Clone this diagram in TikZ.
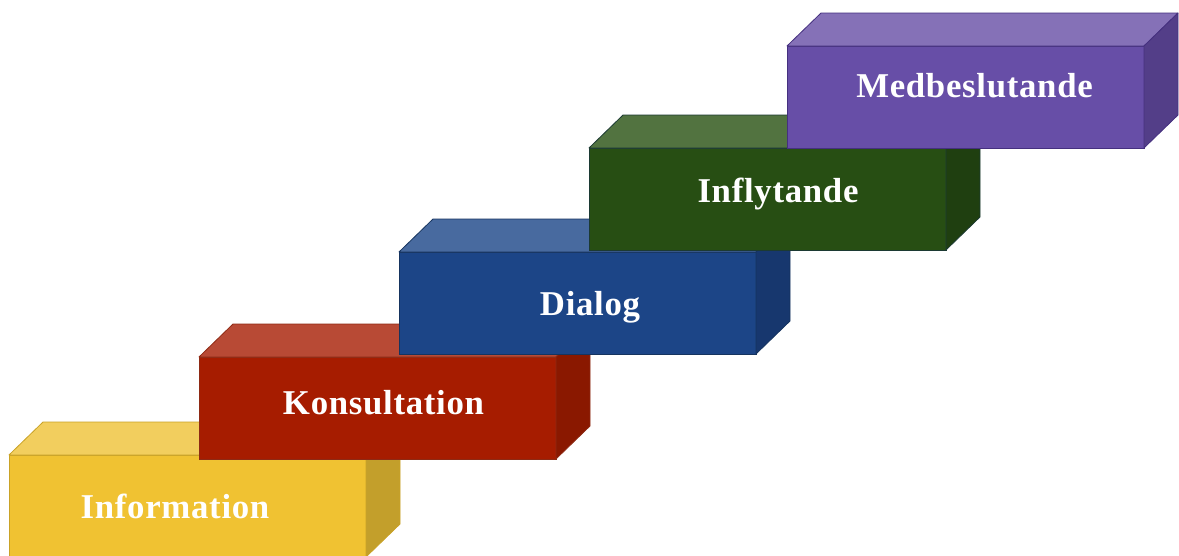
\documentclass[tikz,border=0pt]{standalone}
\usepackage{fontspec}
\setmainfont{Liberation Serif}
\usetikzlibrary{calc}

% face colours of the five steps: front, top, side, edge
\definecolor{yelFront}{HTML}{F0C232}
\definecolor{yelTop}{HTML}{F2CE5E}
\definecolor{yelSide}{HTML}{C39F2B}
\definecolor{yelEdge}{HTML}{C9A226}
\definecolor{redFront}{HTML}{A61C00}
\definecolor{redTop}{HTML}{B84A35}
\definecolor{redSide}{HTML}{8A1800}
\definecolor{redEdge}{HTML}{8E2A14}
\definecolor{bluFront}{HTML}{1C4587}
\definecolor{bluTop}{HTML}{486A9F}
\definecolor{bluSide}{HTML}{17376E}
\definecolor{bluEdge}{HTML}{16345F}
\definecolor{grnFront}{HTML}{274E13}
\definecolor{grnTop}{HTML}{527340}
\definecolor{grnSide}{HTML}{1F3F10}
\definecolor{grnEdge}{HTML}{1C3A33}
\definecolor{purFront}{HTML}{674EA7}
\definecolor{purTop}{HTML}{8571B7}
\definecolor{purSide}{HTML}{533E88}
\definecolor{purEdge}{HTML}{45307F}

\tikzset{
  frontface/.style={draw, minimum width=357pt, minimum height=102pt,
    inner sep=0pt, outer sep=0pt, anchor=north west, line width=0.8pt},
  face/.style={line width=0.8pt, line join=round},
  steplabel/.style={text=white, anchor=base, inner sep=0pt,
    font=\fontsize{34.8}{40}\selectfont\bfseries\addfontfeature{LetterSpace=2}},
}

% #1 name, #2 #3 front top-left corner, #4 front, #5 top, #6 side, #7 edge
\newcommand\stairblock[7]{%
  \node[frontface, fill=#4, draw=#7] (#1) at (#2,#3) {};
  \filldraw[face, fill=#5, draw=#7]
    (#1.north west) -- ++(34,-33) -- ($(#1.north east)+(34,-33)$)
    -- (#1.north east) -- cycle;
  \filldraw[face, fill=#6, draw=#7]
    (#1.north east) -- ++(34,-33) -- ($(#1.south east)+(34,-33)$)
    -- (#1.south east) -- cycle;
}

\begin{document}
\begin{tikzpicture}[x=1pt, y=-1pt]
  \useasboundingbox (0,0) rectangle (1179,555);
  \clip (0,0) rectangle (1179,555);

  \stairblock{info}{9}{455}{yelFront}{yelTop}{yelSide}{yelEdge}
  \node[steplabel] (infoT) at (175,518) {Information};

  \stairblock{kons}{199}{357}{redFront}{redTop}{redSide}{redEdge}
  \node[steplabel] (konsT) at (383.5,414) {Konsultation};

  \stairblock{dial}{399}{252}{bluFront}{bluTop}{bluSide}{bluEdge}
  \node[steplabel] (dialT) at (590,315) {Dialog};

  \stairblock{infl}{589}{148}{grnFront}{grnTop}{grnSide}{grnEdge}
  \node[steplabel] (inflT) at (778,202) {Inflytande};

  \stairblock{medb}{787}{46}{purFront}{purTop}{purSide}{purEdge}
  \node[steplabel] (medbT) at (974.5,97) {Medbeslutande};
\end{tikzpicture}
\end{document}
